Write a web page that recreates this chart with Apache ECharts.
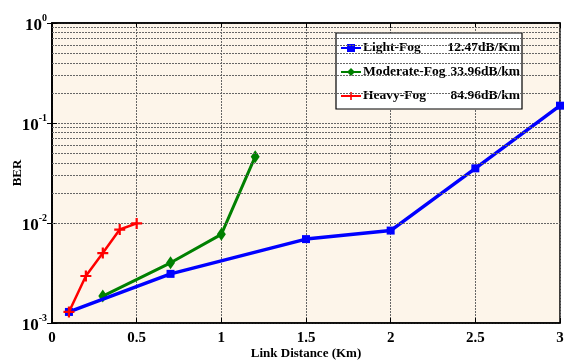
<!DOCTYPE html>
<html><head><meta charset="utf-8">
<script src="https://cdn.jsdelivr.net/npm/echarts@6/dist/echarts.min.js"></script>
<style>html,body{margin:0;padding:0;background:#fff}#c{width:566px;height:363px}</style>
</head><body><div id="c"></div>
<script>
const seriesNames = ['Light-Fog', 'Moderate-Fog', 'Heavy-Fog'];
const seriesAtten = ['12.47dB/Km', '33.96dB/km', '84.96dB/km'];
const lightX = [0.1, 0.7, 1.5, 2.0, 2.5, 3.0];
const lightY = [0.00129, 0.0031, 0.0069, 0.0084, 0.0352, 0.149];
const moderateX = [0.3, 0.7, 1.0, 1.2];
const moderateY = [0.00186, 0.0040, 0.0077, 0.046];
const heavyX = [0.1, 0.2, 0.3, 0.4, 0.5];
const heavyY = [0.00129, 0.00295, 0.0050, 0.0086, 0.0099];
const xTicks = [0, 0.5, 1, 1.5, 2, 2.5, 3];
const yDecades = [0.001, 0.01, 0.1, 1];
const yExponents = ['-3', '-2', '-1', '0'];
const minorMult = [2, 3, 4, 5, 6, 7, 8, 9];

const serif = '"Liberation Serif", "Times New Roman", serif';
const minorVals = [];
yDecades.slice(0, 3).forEach(d => minorMult.forEach(m => minorVals.push(+(d * m).toPrecision(3))));

const pair = (xs, ys) => xs.map((x, i) => [x, ys[i]]);
const attenMap = {};
seriesNames.forEach((n, i) => attenMap[n] = seriesAtten[i]);

const chart = echarts.init(document.getElementById('c'), null, {renderer: 'canvas'});
const gridLine = {show: true, lineStyle: {color: '#666', type: [2, 1], width: 1}};
chart.setOption({
  animation: false,
  backgroundColor: '#fff',
  grid: {left: 52, right: 6, top: 23, bottom: 40, outerBoundsMode: 'none', containLabel: false,
    show: true, backgroundColor: '#FDF5EA', borderColor: '#000', borderWidth: 1.5},
  legend: {
    orient: 'vertical', left: 336, top: 33,
    backgroundColor: '#fff', borderColor: '#000', borderWidth: 1.2,
    padding: [8, 2, 6, 4], itemGap: 10, itemWidth: 20, itemHeight: 10,
    data: seriesNames,
    formatter: n => '{n|' + n + '}{v|' + attenMap[n] + '}',
    textStyle: {
      fontFamily: serif, fontWeight: 'bold', fontSize: 13.5, color: '#000', padding: [0, 0, 0, -3],
      rich: {
        n: {fontFamily: serif, fontWeight: 'bold', fontSize: 13.5, width: 85, color: '#000'},
        v: {fontFamily: serif, fontWeight: 'bold', fontSize: 13.5, width: 72, align: 'right', color: '#000'}
      }
    }
  },
  xAxis: [{
    type: 'value', min: 0, max: 3, interval: 0.5,
    name: 'Link Distance (Km)', nameLocation: 'middle', nameGap: 24, nameMoveOverlap: false,
    nameTextStyle: {fontFamily: serif, fontWeight: 'bold', fontSize: 13, color: '#000'},
    axisLine: {show: true, lineStyle: {color: '#000', width: 1.5}},
    axisTick: {show: true, inside: true, length: 5, lineStyle: {color: '#000'}},
    axisLabel: {fontFamily: serif, fontWeight: 'bold', fontSize: 15, color: '#000', margin: 8,
      formatter: v => String(xTicks.find(t => Math.abs(t - v) < 1e-9) ?? v)},
    splitLine: gridLine
  }, {
    type: 'value', min: 0, max: 3, interval: 0.5, position: 'top',
    axisLine: {show: true, lineStyle: {color: '#000', width: 1.5}},
    axisTick: {show: true, inside: true, length: 5, lineStyle: {color: '#000'}},
    axisLabel: {show: false}, splitLine: {show: false}
  }],
  yAxis: [{
    type: 'log', logBase: 10, min: 0.001, max: 1,
    name: 'BER', nameLocation: 'middle', nameGap: 28, nameRotate: 90, nameMoveOverlap: false,
    nameTextStyle: {fontFamily: serif, fontWeight: 'bold', fontSize: 13, color: '#000'},
    axisLine: {show: true, lineStyle: {color: '#000', width: 1.5}},
    axisTick: {show: true, inside: true, length: 5, lineStyle: {color: '#000'}},
    axisLabel: {
      margin: 5,
      formatter: v => {
        const i = yDecades.findIndex(d => Math.abs(d - v) / d < 1e-6);
        return '{b|10}{s|' + (i >= 0 ? yExponents[i] : '') + '}';
      },
      rich: {
        b: {fontFamily: serif, fontWeight: 'bold', fontSize: 17, color: '#000', padding: [6, 0, 0, 0]},
        s: {fontFamily: serif, fontWeight: 'bold', fontSize: 10, color: '#000', padding: [0, 0, 10, 0]}
      }
    },
    splitLine: gridLine
  }, {
    type: 'log', logBase: 10, min: 0.001, max: 1, position: 'right',
    axisLine: {show: true, lineStyle: {color: '#000', width: 1.5}},
    axisTick: {show: true, inside: true, length: 5, lineStyle: {color: '#000'}},
    axisLabel: {show: false}, splitLine: {show: false}
  }],
  series: [
    {
      name: 'minor', type: 'line', data: [], silent: true,
      markLine: {
        silent: true, symbol: ['none', 'none'], label: {show: false},
        lineStyle: {color: '#666', type: [2, 1], width: 1},
        data: minorVals.map(v => ({yAxis: v}))
      }
    },
    {
      name: seriesNames[0], type: 'line', data: pair(lightX, lightY),
      color: '#0000FF', lineStyle: {width: 3.5, color: '#0000FF'},
      symbol: 'rect', symbolSize: 8, itemStyle: {color: '#0000FF'}, z: 4
    },
    {
      name: seriesNames[1], type: 'line', data: pair(moderateX, moderateY),
      color: '#008000', lineStyle: {width: 3, color: '#008000'},
      symbol: 'diamond', symbolSize: [9, 13], itemStyle: {color: '#008000'}, z: 3
    },
    {
      name: seriesNames[2], type: 'line', data: pair(heavyX, heavyY),
      color: '#FF0000', lineStyle: {width: 2.5, color: '#FF0000'},
      symbol: 'path://M4,0H6V4H10V6H6V10H4V6H0V4H4Z', symbolSize: 11, itemStyle: {color: '#FF0000'}, z: 5
    }
  ]
});
</script></body></html>
